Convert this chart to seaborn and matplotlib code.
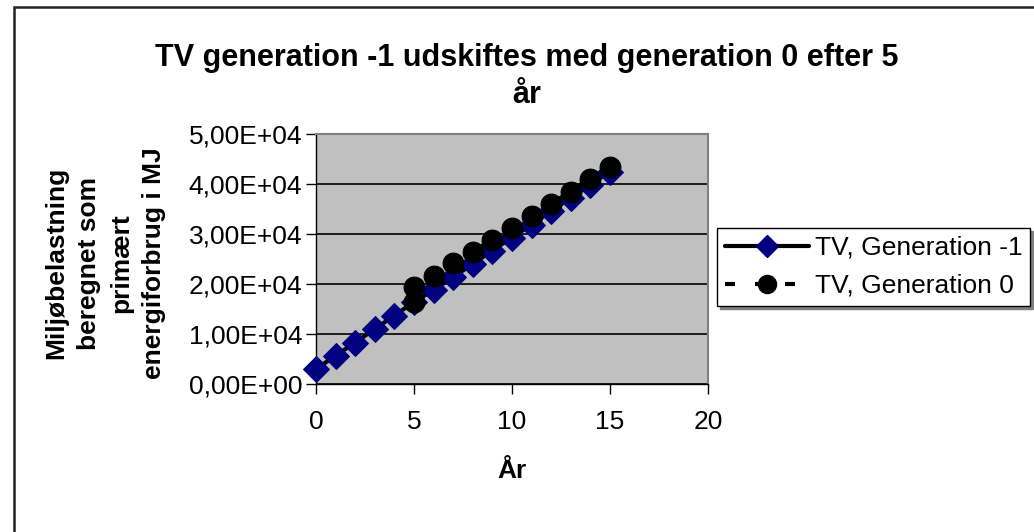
import matplotlib
matplotlib.use("Agg")
import matplotlib.pyplot as plt
import seaborn as sns
import pandas as pd
from matplotlib.lines import Line2D
from matplotlib.patches import Rectangle

# Data
years_gen_m1 = [0, 1, 2, 3, 4, 5, 6, 7, 8, 9, 10, 11, 12, 13, 14, 15]
values_gen_m1 = [3000, 5650, 8300, 11000, 13700, 16400, 18800, 21400,
                 24000, 26700, 29300, 31900, 34600, 37200, 39900, 42500]
years_gen_0 = [5, 5, 6, 7, 8, 9, 10, 11, 12, 13, 14, 15]
values_gen_0 = [16400, 19500, 21700, 24200, 26500, 28900, 31300, 33700,
                36100, 38500, 41000, 43400]
series_names = ["TV, Generation -1", "TV, Generation 0"]
y_ticks = [0, 10000, 20000, 30000, 40000, 50000]
y_tick_labels = ["0,00E+00", "1,00E+04", "2,00E+04", "3,00E+04", "4,00E+04", "5,00E+04"]
x_ticks = [0, 5, 10, 15, 20]
title_line1 = "TV generation -1 udskiftes med generation 0 efter 5"
title_line2 = "år"
y_label = "Miljøbelastning\nberegnet som\nprimært\nenergiforbrug i MJ"
x_label = "År"

sns.set_style("white")
plt.rcParams['font.family'] = ['Liberation Sans', 'DejaVu Sans']
plt.rcParams.update({"text.color": "black", "xtick.color": "black", "ytick.color": "black",
                     "axes.labelcolor": "black"})

W, H = 1034, 532
fig = plt.figure(figsize=(W / 100, H / 100), dpi=100)
fig.patch.set_facecolor("white")

# outer chart frame (extends past the right/bottom edge)
fig.patches.append(Rectangle((14 / W, -0.1), 1.2, (H - 7) / H + 0.1, transform=fig.transFigure,
                             fill=False, edgecolor="#222222", linewidth=1.8, zorder=0))

left, right, top, bottom = 316, 708, 134, 384
ax = fig.add_axes([left / W, 1 - bottom / H, (right - left) / W, (bottom - top) / H])
ax.set_facecolor("#C0C0C0")

df1 = pd.DataFrame({"x": years_gen_m1, "y": values_gen_m1})
df0 = pd.DataFrame({"x": years_gen_0, "y": values_gen_0})

sns.lineplot(data=df1, x="x", y="y", ax=ax, sort=False, estimator=None,
             color="black", linewidth=3, marker="D", markersize=13,
             markerfacecolor="#000080", markeredgecolor="#000080", zorder=3, clip_on=False)
sns.lineplot(data=df0, x="x", y="y", ax=ax, sort=False, estimator=None,
             color="black", linewidth=3, linestyle=(0, (2.4, 4.8)), marker="o", markersize=15,
             markerfacecolor="black", markeredgecolor="black", zorder=4, clip_on=False)

ax.set_xlim(0, 20)
ax.set_ylim(0, 50000)
ax.set_xticks(x_ticks)
ax.set_xticklabels([str(t) for t in x_ticks], fontsize=19)
ax.set_yticks(y_ticks)
ax.set_yticklabels(y_tick_labels, fontsize=19)
ax.yaxis.grid(True, color="black", linewidth=1.2)
ax.xaxis.grid(False)
ax.set_axisbelow(True)
ax.tick_params(axis="both", direction="out", length=7, width=1, color="black",
               left=True, bottom=True)
ax.tick_params(axis="y", pad=3)
ax.tick_params(axis="x", pad=12)
for s in ax.spines.values():
    s.set_color("#808080")
    s.set_linewidth(1.5)
ax.spines["left"].set_color("black")
ax.spines["left"].set_linewidth(1)
ax.spines["bottom"].set_color("black")
ax.spines["bottom"].set_linewidth(1)
ax.set_xlabel("")
ax.set_ylabel("")

fig.text(527 / W, 1 - 58 / H, title_line1,
         ha="center", va="center", fontsize=22, fontweight="bold")
fig.text(527 / W, 1 - 95 / H, title_line2, ha="center", va="center", fontsize=22,
         fontweight="bold")
fig.text(512 / W, 1 - 471 / H, x_label, ha="center", va="center", fontsize=19,
         fontweight="bold")
fig.text(105 / W, 1 - 263 / H, y_label, ha="center", va="center", fontsize=19,
         fontweight="bold", rotation=90, linespacing=1.45)

handles = [
    Line2D([], [], color="black", linewidth=3, marker="D", markersize=11,
           markerfacecolor="#000080", markeredgecolor="#000080"),
    Line2D([], [], color="black", linewidth=3, linestyle=(0, (2.4, 4.8)), marker="o", markersize=13,
           markerfacecolor="black", markeredgecolor="black"),
]
leg = fig.legend(handles, series_names, loc="upper left",
                 bbox_to_anchor=(717 / W, 1 - 228 / H), fontsize=19,
                 frameon=True, fancybox=False, shadow={"color": "#808080", "alpha": 1},
                 handlelength=3.2, handletextpad=0.2, borderpad=0.3, labelspacing=0.53,
                 borderaxespad=0)
leg.get_frame().set_edgecolor("black")
leg.get_frame().set_linewidth(1)

fig.savefig("out.png", dpi=100)
